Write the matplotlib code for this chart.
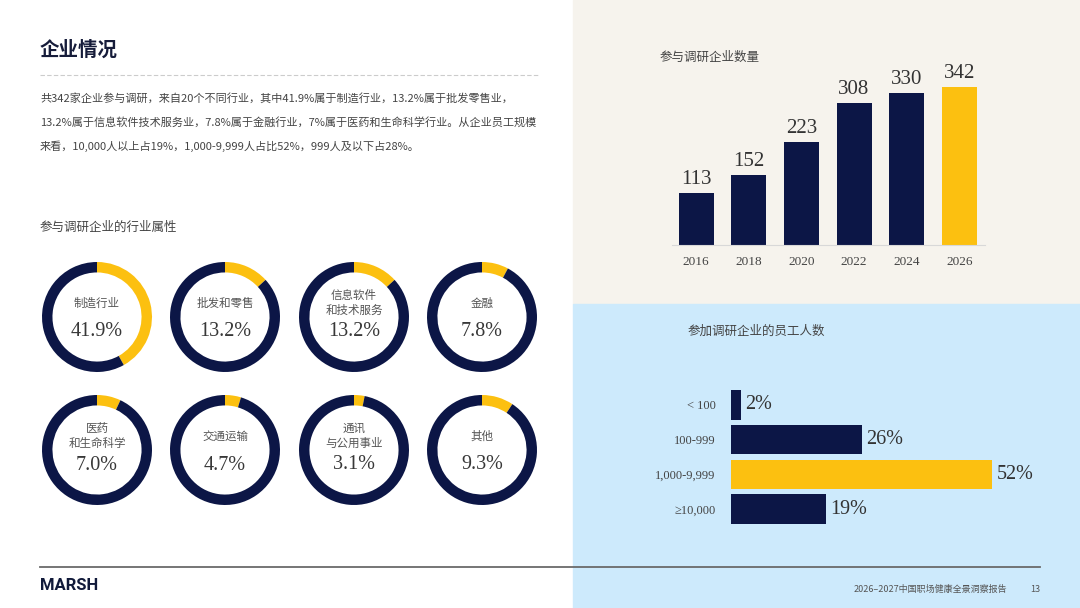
import matplotlib
matplotlib.use("Agg")
import matplotlib.pyplot as plt
from matplotlib.patches import Rectangle

# ---- data ----
industry_labels = ["制造行业", "批发和零售", "信息软件\n和技术服务", "金融",
                   "医药\n和生命科学", "交通运输", "通讯\n与公用事业", "其他"]
industry_pct = [41.9, 13.2, 13.2, 7.8, 7.0, 4.7, 3.1, 9.3]

years = ["2016", "2018", "2020", "2022", "2024", "2026"]
company_counts = [113, 152, 223, 308, 330, 342]

size_labels = ["< 100", "100-999", "1,000-9,999", "≥10,000"]
size_pct = [2, 26, 52, 19]

title = "企业情况"
paragraph = [
    "共342家企业参与调研，来自20个不同行业，其中41.9%属于制造行业，13.2%属于批发零售业，",
    "13.2%属于信息软件技术服务业，7.8%属于金融行业，7%属于医药和生命科学行业。从企业员工规模",
    "来看，10,000人以上占19%，1,000-9,999人占比52%，999人及以下占28%。",
]

NAVY = "#0c1646"
YELLOW = "#fcc010"
BEIGE = "#f6f3ed"
LIGHTBLUE = "#cdeafc"
TEXT = "#444444"
CJK = ["Noto Sans CJK SC", "DejaVu Sans"]
SERIF = ["Liberation Serif", "DejaVu Serif"]

plt.rcParams["font.family"] = CJK

W, H = 1080, 608
fig = plt.figure(figsize=(W / 100, H / 100), dpi=100)


def px_axes(x0, y0, x1, y1):
    # pixel box (top-left origin) -> figure axes
    return fig.add_axes([x0 / W, 1 - y1 / H, (x1 - x0) / W, (y1 - y0) / H])


bg = fig.add_axes([0, 0, 1, 1])
bg.set_xlim(0, W)
bg.set_ylim(H, 0)
bg.axis("off")
bg.add_patch(Rectangle((573, 0), W - 573, 304, color=BEIGE, zorder=0))
bg.add_patch(Rectangle((573, 304), W - 573, H - 304, color=LIGHTBLUE, zorder=0))

# header
bg.text(40, 50, title, fontsize=14, fontweight="bold", color="#161c3a", va="center")
bg.plot([40, 540], [75, 75], color="#cccccc", lw=0.8, ls=(0, (4, 2)))
for i, line in enumerate(paragraph):
    bg.text(40, 98 + 24 * i, line, fontsize=8.0, color=TEXT, va="center")
bg.text(40, 227, "参与调研企业的行业属性", fontsize=9, color=TEXT, va="center")

# donuts
R = 55
centers_x = [97, 225, 354, 482]
centers_y = [317, 450]
for i, (lab, pct) in enumerate(zip(industry_labels, industry_pct)):
    cx = centers_x[i % 4]
    cy = centers_y[i // 4]
    ax = px_axes(cx - R, cy - R, cx + R, cy + R)
    ax.pie([pct, 100 - pct], colors=[YELLOW, NAVY], startangle=90,
           counterclock=False, radius=1, wedgeprops=dict(width=0.19, linewidth=0))
    ax.set_xlim(-1, 1)
    ax.set_ylim(-1, 1)
    ax.set_aspect("equal")
    ax.text(0, 14 / R, lab, ha="center", va="center", fontsize=8.3, color="#555555",
            linespacing=1.25)
    ax.text(0, -15 / R, f"{pct:.1f}%", ha="center", va="center", fontsize=14.5,
            color="#383838", family=SERIF)

# column chart: number of companies
bg.text(660, 57, "参与调研企业数量", fontsize=9, color=TEXT, va="center")
ax1 = px_axes(672, 45, 985, 245)
ax1.set_facecolor("none")
xs = range(len(years))
bar_colors = [NAVY] * (len(years) - 1) + [YELLOW]
ax1.bar(xs, company_counts, width=0.665, color=bar_colors)
for x, v in zip(xs, company_counts):
    ax1.text(x, v + 8, str(v), ha="center", va="bottom", fontsize=15,
             color="#333333", family=SERIF)
ax1.set_xlim(-0.46, 5.49)
ax1.set_ylim(0, 433)
ax1.set_xticks(list(xs))
ax1.set_xticklabels(years, family=SERIF, fontsize=9.5, color="#444444")
ax1.tick_params(axis="x", length=0, pad=8)
ax1.set_yticks([])
for s in ["top", "right", "left"]:
    ax1.spines[s].set_visible(False)
ax1.spines["bottom"].set_color("#d8d8d8")

# horizontal bars: employee count
bg.text(688, 331, "参加调研企业的员工人数", fontsize=9, color=TEXT, va="center")
ax2 = px_axes(731, 387.6, 1040, 526.4)
ax2.set_facecolor("none")
ys = range(len(size_labels))
h_colors = [YELLOW if p == max(size_pct) else NAVY for p in size_pct]
ax2.barh(ys, size_pct, height=0.84, color=h_colors)
for y, p in zip(ys, size_pct):
    ax2.text(p + 0.8, y, f"{p}%", ha="left", va="center", fontsize=14.5,
             color="#333333", family=SERIF)
ax2.set_ylim(3.5, -0.5)
ax2.set_xlim(0, 61.5)
ax2.set_yticks(list(ys))
ax2.set_yticklabels(size_labels, family=SERIF, fontsize=9, color="#444444")
ax2.tick_params(axis="y", length=0, pad=11)
ax2.set_xticks([])
for s in ax2.spines.values():
    s.set_visible(False)

# footer
bg.plot([40, 1040], [567, 567], color="#6a6a6a", lw=1.3)
bg.text(40, 586, "MARSH", fontsize=12, fontweight="bold", color="#111a3a",
        va="center", family=["Roboto", "DejaVu Sans"])
bg.text(1007, 589, "2026–2027中国职场健康全景洞察报告", fontsize=6.5, color="#555555",
        ha="right", va="center")
bg.text(1035, 589, "13", fontsize=6.5, color="#555555", ha="center", va="center")

fig.savefig("out.png", dpi=100)
